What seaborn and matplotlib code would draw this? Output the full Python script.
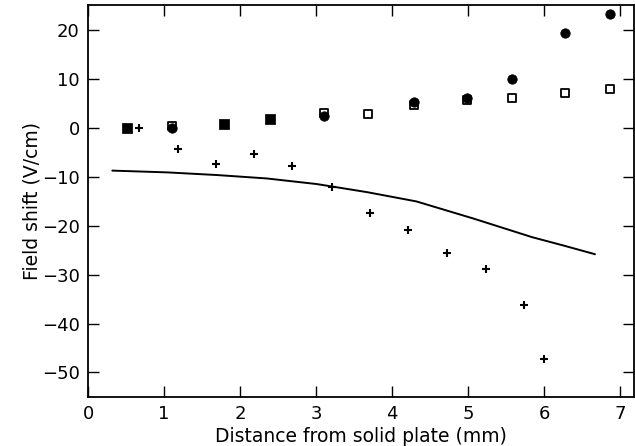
import matplotlib
matplotlib.use("Agg")
import matplotlib.pyplot as plt
import seaborn as sns

# Data
fsq_x = [0.51, 1.79, 2.39]
fsq_y = [0.0, 0.9, 1.9]

osq_x = [1.10, 3.10, 3.69, 4.29, 4.98, 5.58, 6.28, 6.87]
osq_y = [0.5, 3.0, 2.9, 4.7, 5.7, 6.2, 7.2, 7.9]

circ_x = [1.10, 3.10, 4.29, 4.98, 5.58, 6.27, 6.87]
circ_y = [0.0, 2.5, 5.3, 6.1, 10.0, 19.4, 23.3]

plus_x = [0.67, 1.18, 1.68, 2.19, 2.69, 3.21, 3.71, 4.21, 4.72, 5.23, 5.73, 6.00]
plus_y = [0.0, -4.3, -7.4, -5.3, -7.7, -12.0, -17.3, -20.9, -25.6, -28.9, -36.2, -47.2]

line_x = [0.32, 1.04, 1.69, 2.35, 3.01, 3.67, 4.32, 5.07, 5.84, 6.25, 6.67]
line_y = [-8.7, -9.06, -9.6, -10.3, -11.45, -13.1, -15.0, -18.5, -22.3, -24.0, -25.8]

x_ticks = [0, 1, 2, 3, 4, 5, 6, 7]
y_ticks = [-50, -40, -30, -20, -10, 0, 10, 20]

sns.set_theme(style="ticks")
plt.rcParams['font.family'] = ['DejaVu Sans']
plt.rcParams['text.color'] = 'black'
plt.rcParams['axes.labelcolor'] = 'black'

fig = plt.figure(figsize=(6.35, 4.46), dpi=100)
ax = fig.add_axes([0.1386, 0.11, 0.998 - 0.1386, 0.989 - 0.11])

sns.lineplot(x=line_x, y=line_y, ax=ax, color="black", linewidth=1.4, sort=False)
sns.scatterplot(x=osq_x, y=osq_y, ax=ax, marker="s", s=38, facecolor="white",
                edgecolor="black", linewidth=1.3, zorder=3)
sns.scatterplot(x=circ_x, y=circ_y, ax=ax, marker="o", s=46, color="black",
                edgecolor="black", zorder=4)
sns.scatterplot(x=fsq_x, y=fsq_y, ax=ax, marker="s", s=44, color="black",
                edgecolor="black", zorder=4)
sns.scatterplot(x=plus_x, y=plus_y, ax=ax, marker="+", s=40, color="black",
                linewidth=1.5, zorder=4)

ax.set_xlim(0, 7.18)
ax.set_ylim(-55, 25.2)
ax.set_xticks(x_ticks)
ax.set_yticks(y_ticks)
ax.set_xticklabels([str(v) for v in x_ticks])
ax.set_yticklabels([str(v).replace("-", "\u2212") for v in y_ticks])
ax.tick_params(direction="in", length=8, width=1.0, top=True, right=True,
               labeltop=False, labelright=False, labelsize=13, colors="black",
               labelcolor="black", pad=6)
for sp in ax.spines.values():
    sp.set_visible(True)
    sp.set_linewidth(1.3)
    sp.set_color("black")

ax.set_xlabel("Distance from solid plate (mm)", fontsize=13.5, labelpad=3, color="black")
ax.set_ylabel("Field shift (V/cm)", fontsize=13.5, labelpad=0, color="black")

fig.savefig("out.png", dpi=100)
